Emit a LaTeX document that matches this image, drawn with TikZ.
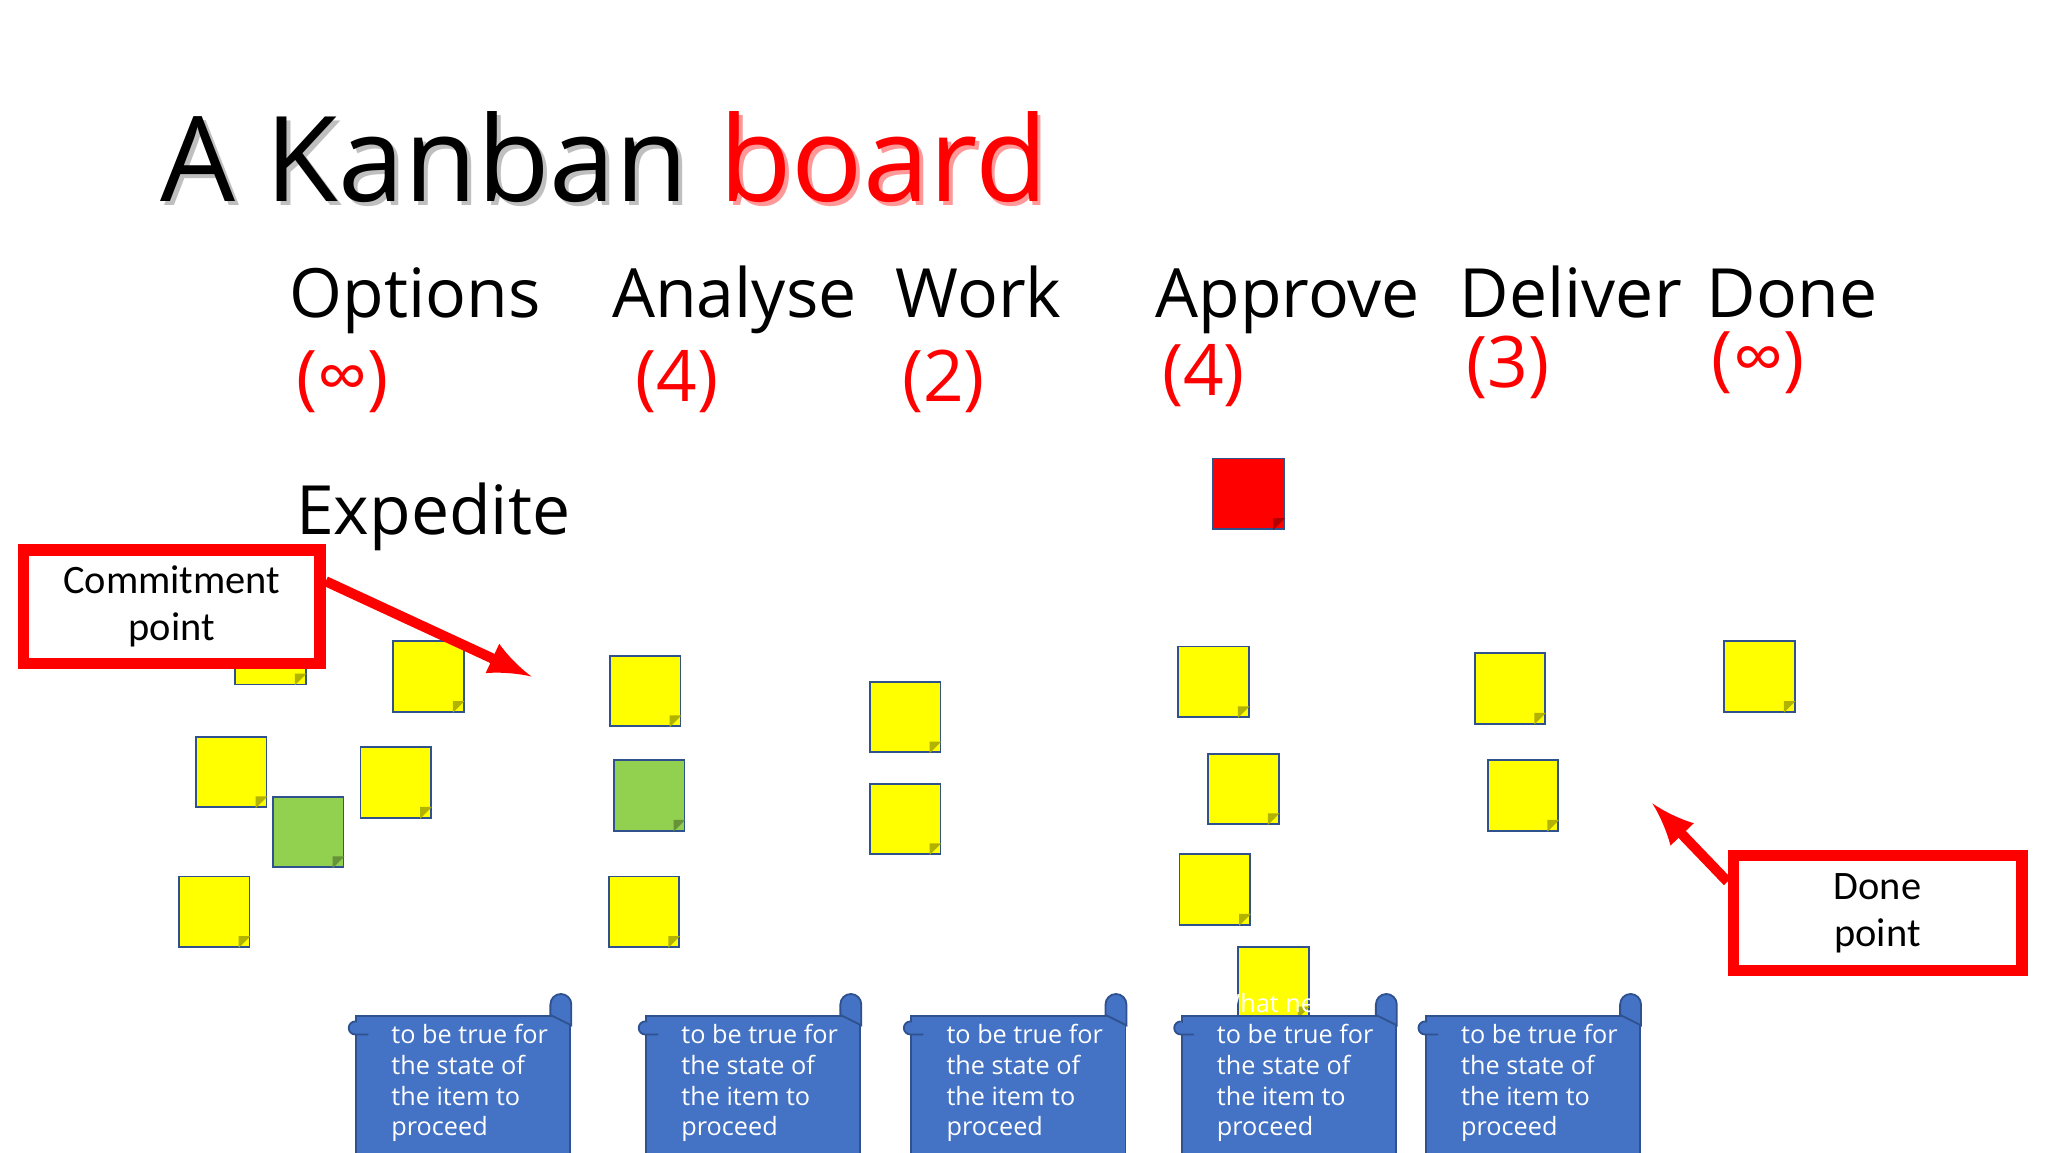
\documentclass[tikz,border=0pt]{standalone}
\usepackage{fontspec}
\setmainfont{Open Sans}
\newfontfamily\calfont{Carlito}
\usetikzlibrary{calc}
\definecolor{notey}{RGB}{255,255,0}
\definecolor{noteg}{RGB}{146,208,80}
\definecolor{scrollb}{RGB}{68,114,196}
\definecolor{scrolld}{RGB}{47,82,143}
\tikzset{
 note/.style={draw=scrolld,line width=0.4pt,minimum size=0.54cm,inner sep=0},
 head/.style={anchor=base west,font=\fontsize{14.8}{17}\selectfont,inner sep=0},
 wip/.style={anchor=base west,font=\fontsize{15.5}{17}\selectfont,text=red,inner sep=0},
 callout/.style={draw=red,line width=2.5pt,fill=white,font=\calfont\fontsize{8.8}{10.2}\selectfont,align=center},
 redarrow/.style={red,line width=2.2pt,-latex},
 scrolltext/.style={anchor=north west,text=white,align=left,font=\fontsize{5.5}{6.7}\selectfont,inner sep=0}
}
\newcommand\sticky[4]{%
 \node[note,fill=#4] (#1) at (#2,#3) {};
 \fill[#4!70!black] ($(#1.south east)+(-0.09,0)$) -- ($(#1.south east)+(0,0.09)$) -- ($(#1.south east)+(-0.09,0.09)$) -- cycle;}
\newcommand\scrollshape[2]{%
 \node[draw=scrolld,fill=scrollb,minimum width=1.64cm,minimum height=1.2cm,anchor=north west,inner sep=0] (#1) at (#2,-7.77) {};
 \fill[scrollb,draw=scrolld] ($(#1.north east)+(-0.16,0)$) -- ++(0,0.08) arc (180:0:0.08) -- ++(0,-0.16) -- cycle;
 \fill[scrollb,draw=scrolld] ($(#1.north west)+(0,-0.05)$) arc (90:270:0.05) -- ++(0.1,0);
 \node[scrolltext] at ($(#1.north west)+(0.27,0.17)$) {What needs\\to be true for\\the state of\\the item to\\proceed};}
\begin{document}
\begin{tikzpicture}
\useasboundingbox (0,0) rectangle (15.68,-8.82);
\clip (0,0) rectangle (15.68,-8.82);
\fill[white] (0,0) rectangle (15.68,-8.82);
\node[anchor=base west,inner sep=0,font=\fontsize{25.8}{30}\selectfont,text=gray!50] (titles) at (1.25,-1.57) {A Kanban \textcolor{red!40}{board}};
\node[anchor=base west,inner sep=0,font=\fontsize{25.8}{30}\selectfont] (title) at (1.22,-1.54) {A Kanban \textcolor{red}{board}};
\node[head] (h1) at (2.21,-2.43) {Options};
\node[head] (h2) at (4.68,-2.43) {Analyse};
\node[head] (h3) at (6.85,-2.43) {Work};
\node[head] (h4) at (8.84,-2.43) {Approve};
\node[head] (h5) at (11.17,-2.43) {Deliver};
\node[head] (h6) at (13.06,-2.43) {Done};
\node[wip] (w1) at (2.26,-3.07) {(∞)};
\node[wip] (w2) at (4.86,-3.07) {(4)};
\node[wip] (w3) at (6.90,-3.07) {(2)};
\node[wip] (w4) at (8.89,-3.03) {(4)};
\node[wip] (w5) at (11.22,-2.97) {(3)};
\node[wip] (w6) at (13.10,-2.93) {(∞)};
\node[head] (exp) at (2.26,-4.09) {Expedite};
\sticky{s1}{2.07}{-4.97}{notey}
\sticky{s2}{3.28}{-5.18}{notey}
\sticky{s3}{1.77}{-5.91}{notey}
\sticky{s4}{2.36}{-6.37}{noteg}
\sticky{s5}{3.03}{-5.99}{notey}
\sticky{s6}{1.64}{-6.98}{notey}
\sticky{a1}{4.94}{-5.29}{notey}
\sticky{a2}{4.97}{-6.09}{noteg}
\sticky{a3}{4.93}{-6.98}{notey}
\sticky{k1}{6.93}{-5.49}{notey}
\sticky{k2}{6.93}{-6.27}{notey}
\sticky{p0}{9.56}{-3.78}{red}
\sticky{p1}{9.29}{-5.22}{notey}
\sticky{p2}{9.52}{-6.04}{notey}
\sticky{p3}{9.30}{-6.81}{notey}
\sticky{p4}{9.75}{-7.52}{notey}
\sticky{d1}{11.56}{-5.27}{notey}
\sticky{d2}{11.66}{-6.09}{notey}
\sticky{f1}{13.47}{-5.18}{notey}
\node[callout,minimum width=2.27cm,minimum height=0.87cm] (cp) at (1.315,-4.645) {Commitment\\point};
\coordinate (cpend) at (4.07,-5.18);
\draw[redarrow] (cp.north east |- 0,-4.45) -- (cpend);
\node[callout,minimum width=2.21cm,minimum height=0.88cm] (dp) at (14.375,-6.99) {Done\\point};
\coordinate (dpend) at (12.65,-6.15);
\draw[redarrow] (dp.north west |- 0,-6.75) -- (dpend);
\scrollshape{c1}{2.72}
\scrollshape{c2}{4.94}
\scrollshape{c3}{6.97}
\scrollshape{c4}{9.04}
\scrollshape{c5}{10.91}
\end{tikzpicture}
\end{document}
